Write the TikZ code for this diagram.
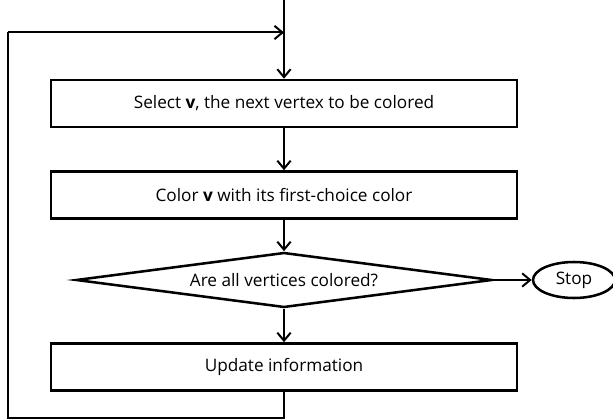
\documentclass[tikz,border=0pt]{standalone}
\usepackage{fontspec}
\setmainfont{Open Sans}
\usetikzlibrary{arrows.meta,shapes.geometric}
\begin{document}
\begin{tikzpicture}[x=0.75pt,y=-0.75pt,
  line width=1.9pt,
  font=\fontsize{12.9}{15}\selectfont,
  procbox/.style={draw,rectangle,minimum width=466*0.75pt,minimum height=47*0.75pt,inner sep=0pt},
  decbox/.style={draw,diamond,aspect=7.6,minimum width=416*0.75pt,minimum height=55*0.75pt,inner sep=0pt},
  termbox/.style={draw,ellipse,minimum width=82*0.75pt,minimum height=36*0.75pt,inner sep=0pt},
  flow/.style={line width=1.5pt,-{Straight Barb[length=6pt,width=10pt,line width=1.5pt]}},
  plain/.style={line width=1.5pt}]
\useasboundingbox (0,0) rectangle (613,420);
\node[procbox] (b1) at (284,103.5) {Select \textbf{v}, the next vertex to be colored};
\node[procbox] (b2) at (284,195) {Color \textbf{v} with its first-choice color};
\node[decbox] (d) at (284,280) {Are all vertices colored?};
\node[termbox] (s) at (574,280) {Stop};
\node[procbox] (b4) at (284,367) {Update information};
\coordinate (top) at (284,0);
\coordinate (j) at (284,32.5);
\coordinate (bl) at (284,418);
\coordinate (c1) at (8,418);
\coordinate (c2) at (8,32.5);
\draw[flow] (top) -- (b1.north);
\draw[flow] (b1) -- (b2);
\draw[flow] (b2) -- (d.north);
\draw[flow] (d.east) -- (s.west);
\draw[flow] (d.south) -- (b4.north);
\draw[plain] (b4.south) -- (bl) -- (c1) -- (c2);
\draw[flow] (c2) -- (j);
\end{tikzpicture}
\end{document}
